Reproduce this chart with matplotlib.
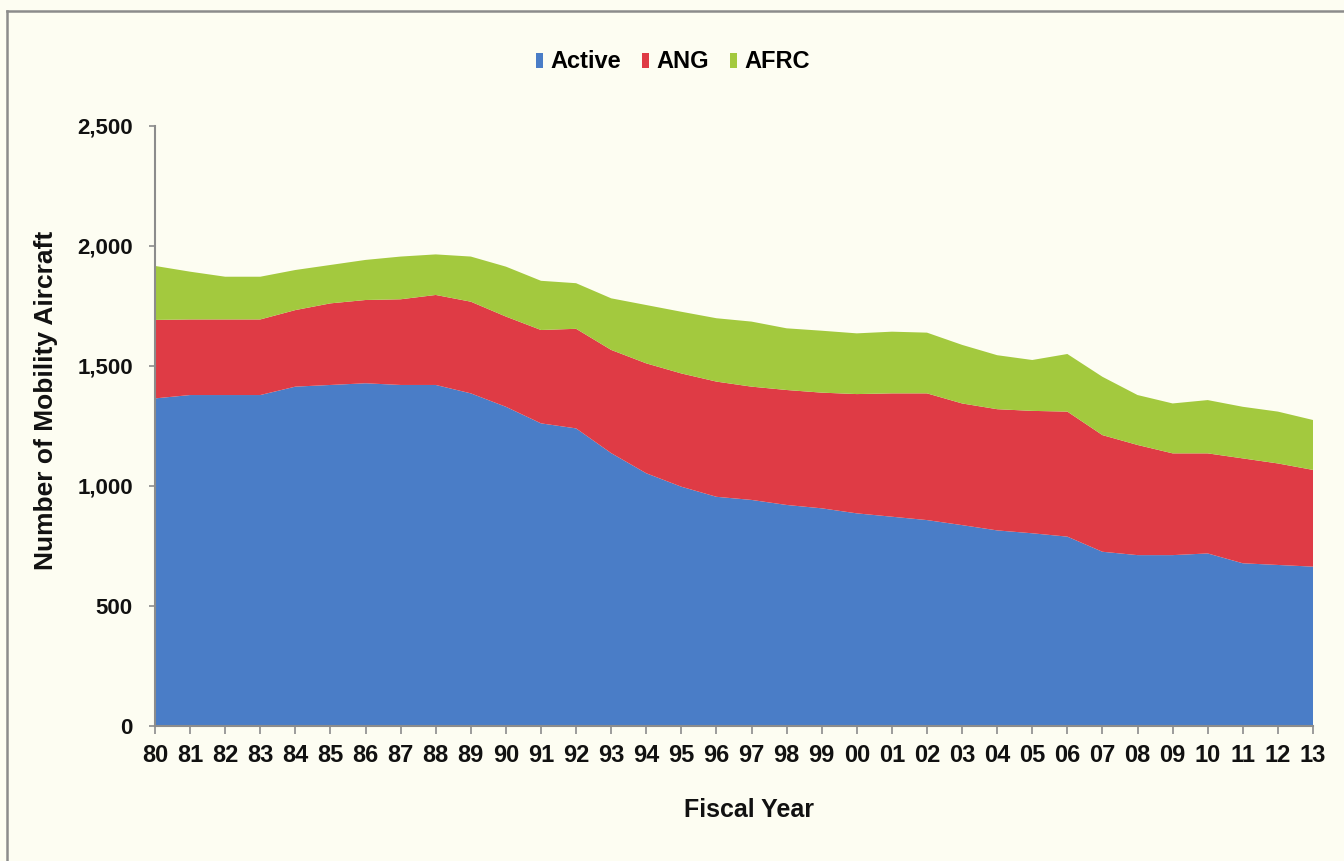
import numpy as np
import matplotlib
matplotlib.use("Agg")
import matplotlib.pyplot as plt
from matplotlib.lines import Line2D
from matplotlib.ticker import StrMethodFormatter, MultipleLocator

# Fiscal years (two-digit labels) and aircraft counts by component
years = ["80", "81", "82", "83", "84", "85", "86", "87", "88", "89",
         "90", "91", "92", "93", "94", "95", "96", "97", "98", "99",
         "00", "01", "02", "03", "04", "05", "06", "07", "08", "09",
         "10", "11", "12", "13"]

active = [1365, 1379, 1379, 1379, 1414, 1421, 1428, 1421, 1421, 1386,
          1330, 1261, 1240, 1137, 1053, 997, 955, 942, 921, 907,
          886, 872, 858, 837, 815, 803, 789, 726, 712, 712,
          719, 678, 671, 664]

ang = [327, 315, 315, 315, 319, 340, 347, 357, 375, 382,
       376, 389, 415, 430, 458, 472, 480, 472, 479, 482,
       497, 514, 528, 507, 505, 510, 521, 486, 459, 424,
       417, 437, 423, 403]

afrc = [225, 199, 178, 178, 167, 160, 167, 178, 169, 188,
        208, 205, 190, 215, 243, 257, 264, 271, 257, 258,
        253, 257, 253, 244, 225, 212, 240, 243, 208, 208,
        222, 215, 216, 208]

series_names = ["Active", "ANG", "AFRC"]
series_colors = ["#4a7dc7", "#df3b45", "#a3c93e"]

BG = "#fdfdf2"
AXIS_GRAY = "#8c8c8c"
NARROW = ["Liberation Sans Narrow", "Liberation Sans", "DejaVu Sans"]
WIDE = ["Liberation Sans", "DejaVu Sans"]

fig = plt.figure(figsize=(13.44, 8.61), dpi=100, facecolor=BG)
W, H = 1344, 861
ax = fig.add_axes([155 / W, 1 - 726 / H, (1313 - 155) / W, (726 - 126) / H])
ax.set_facecolor(BG)

x = np.arange(len(years))
ax.stackplot(x, active, ang, afrc, colors=series_colors,
             labels=series_names, linewidth=0)

ax.set_xlim(0, len(years) - 1)
ax.set_ylim(0, 2500)
ax.yaxis.set_major_locator(MultipleLocator(500))
ax.yaxis.set_major_formatter(StrMethodFormatter("{x:,.0f}"))
ax.set_xticks(x)
ax.set_xticklabels(years)

for side in ("top", "right"):
    ax.spines[side].set_visible(False)
for side in ("left", "bottom"):
    ax.spines[side].set_color(AXIS_GRAY)
    ax.spines[side].set_linewidth(1.5)

ax.tick_params(axis="y", direction="out", length=4, width=1.2,
               color=AXIS_GRAY, pad=12)
ax.tick_params(axis="x", direction="out", length=6, width=1.2,
               color=AXIS_GRAY, pad=7)
for lab in ax.get_yticklabels():
    lab.set_fontfamily(WIDE)
    lab.set_fontweight("bold")
    lab.set_fontsize(16)
    lab.set_color("#111111")
for lab in ax.get_xticklabels():
    lab.set_fontfamily(NARROW)
    lab.set_fontweight("bold")
    lab.set_fontsize(17)
    lab.set_color("#111111")

# Axis titles
fig.text(46 / W, 1 - 400 / H, "Number of Mobility Aircraft", rotation=90,
         ha="center", va="center", fontsize=19, fontweight="bold",
         family=WIDE, color="#111111")
fig.text(749 / W, 1 - 810 / H, "Fiscal Year", ha="center", va="center",
         fontsize=18, fontweight="bold", family=NARROW, color="#111111")

# Legend across the top
fig.legend(loc="center", bbox_to_anchor=(673 / W, 1 - 62 / H), ncol=3,
           frameon=False, prop={"family": NARROW, "weight": "bold", "size": 17},
           handlelength=0.3, handleheight=0.6, handletextpad=0.3,
           columnspacing=0.9)

# Outer frame (top and left edges)
fig.add_artist(Line2D([7 / W, 1.0], [1 - 11 / H, 1 - 11 / H],
                      transform=fig.transFigure, color=AXIS_GRAY, lw=1.8))
fig.add_artist(Line2D([7 / W, 7 / W], [0.0, 1 - 11 / H],
                      transform=fig.transFigure, color=AXIS_GRAY, lw=1.8))

fig.savefig("out.png", dpi=100, facecolor=BG)
